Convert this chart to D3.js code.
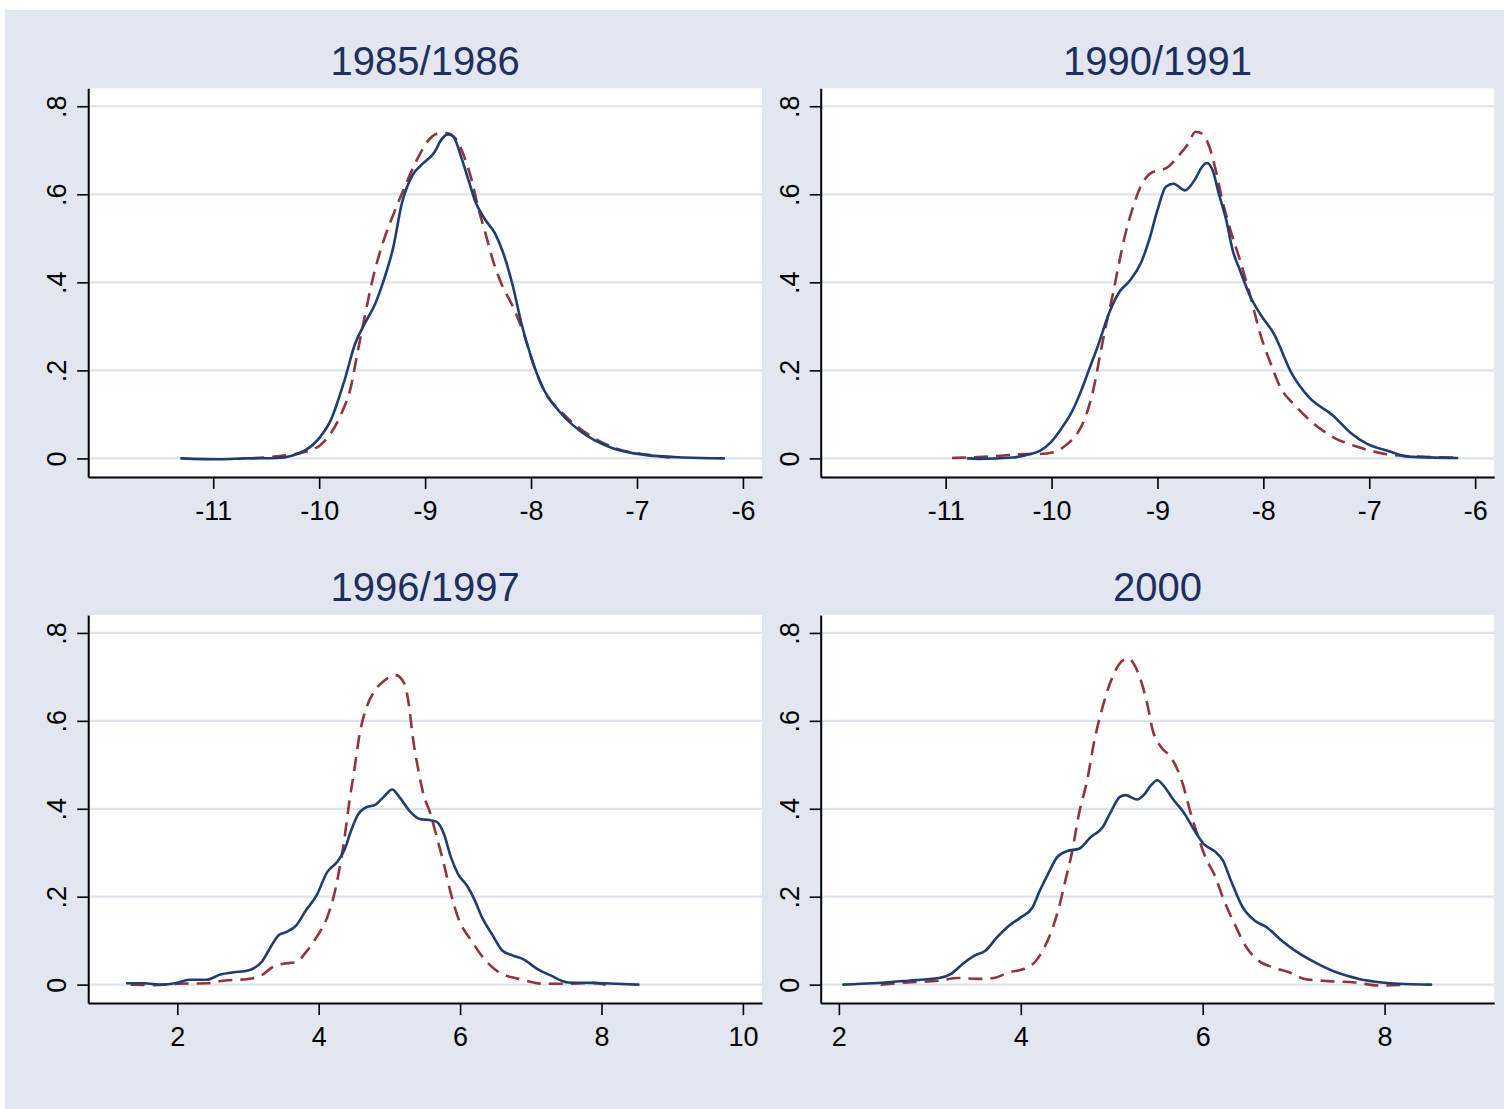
<!DOCTYPE html>
<html>
<head>
<meta charset="utf-8">
<script src="https://cdn.jsdelivr.net/npm/d3@7"></script>
<style>
  html, body { margin: 0; padding: 0; background: #ffffff; }
  svg { display: block; }
  text { font-family: "Liberation Sans", Arial, Helvetica, sans-serif; }
</style>
</head>
<body>
<svg id="chart" width="1504" height="1109"></svg>
<script>
// ---------- data ----------
const titles = ["1985/1986", "1990/1991", "1996/1997", "2000"];

const xTicks = [
  [-11, -10, -9, -8, -7, -6],
  [-11, -10, -9, -8, -7, -6],
  [2, 4, 6, 8, 10],
  [2, 4, 6, 8]
];
const xDomains = [
  [-12.18, -5.82],
  [-12.18, -5.82],
  [0.74, 10.27],
  [1.80, 9.205]
];
const yTicks = [0, 0.2, 0.4, 0.6, 0.8];
const yTickLabels = ["0", ".2", ".4", ".6", ".8"];
const yDomain = [-0.042, 0.841];

// panel 1: 1985/1986
const solid1 = [[-11.30,0],[-10.94,-0.002],[-10.70,0],[-10.40,0.001],[-10.13,0.019],[-9.99,0.049],[-9.89,0.087],
  [-9.76,0.178],[-9.66,0.261],[-9.57,0.306],[-9.47,0.352],[-9.39,0.405],[-9.30,0.48],[-9.22,0.579],[-9.12,0.643],
  [-9.02,0.670],[-8.91,0.696],[-8.85,0.723],[-8.78,0.736],[-8.73,0.730],[-8.66,0.685],[-8.59,0.632],[-8.53,0.586],
  [-8.44,0.545],[-8.34,0.511],[-8.26,0.465],[-8.17,0.39],[-8.09,0.306],[-8.00,0.231],[-7.90,0.166],[-7.73,0.106],
  [-7.53,0.061],[-7.23,0.023],[-6.93,0.008],[-6.55,0.002],[-6.18,0.0]];
const dashed1 = [[-10.65,0],[-10.40,0.005],[-10.13,0.015],[-9.99,0.030],[-9.89,0.057],[-9.79,0.102],[-9.70,0.163],
  [-9.64,0.238],[-9.57,0.322],[-9.49,0.412],[-9.39,0.496],[-9.29,0.560],[-9.18,0.624],[-9.08,0.677],[-8.98,0.719],
  [-8.88,0.738],[-8.80,0.739],[-8.71,0.726],[-8.63,0.685],[-8.56,0.632],[-8.50,0.571],[-8.43,0.511],[-8.36,0.45],
  [-8.28,0.397],[-8.17,0.344],[-8.07,0.284],[-7.97,0.208],[-7.87,0.151],[-7.70,0.102],[-7.50,0.061],[-7.20,0.023],
  [-6.89,0.008],[-6.69,0.002]];

// panel 2: 1990/1991
const solid2 = [[-10.79,0],[-10.69,-0.001],[-10.37,0.002],[-10.20,0.010],[-10.11,0.017],[-10.01,0.036],[-9.91,0.067],
  [-9.81,0.105],[-9.72,0.154],[-9.65,0.199],[-9.55,0.264],[-9.46,0.328],[-9.36,0.378],[-9.26,0.404],[-9.16,0.442],
  [-9.08,0.495],[-9.00,0.564],[-8.92,0.617],[-8.85,0.624],[-8.74,0.609],[-8.64,0.636],[-8.58,0.662],[-8.53,0.671],
  [-8.48,0.655],[-8.42,0.601],[-8.35,0.541],[-8.29,0.473],[-8.22,0.427],[-8.12,0.366],[-8.03,0.328],[-7.90,0.283],
  [-7.73,0.192],[-7.57,0.139],[-7.34,0.097],[-7.18,0.059],[-7.02,0.033],[-6.82,0.017],[-6.63,0.004],[-6.17,0.001]];
const dashed2 = [[-10.94,0.001],[-10.60,0.004],[-10.24,0.010],[-10.11,0.010],[-9.98,0.014],[-9.85,0.033],[-9.75,0.059],
  [-9.67,0.101],[-9.60,0.162],[-9.54,0.237],[-9.49,0.298],[-9.42,0.374],[-9.37,0.435],[-9.31,0.503],[-9.24,0.564],
  [-9.16,0.617],[-9.07,0.647],[-8.90,0.662],[-8.81,0.685],[-8.71,0.715],[-8.64,0.742],[-8.58,0.738],[-8.51,0.708],
  [-8.45,0.655],[-8.38,0.579],[-8.30,0.510],[-8.22,0.450],[-8.12,0.366],[-8.03,0.283],[-7.93,0.215],[-7.84,0.162],
  [-7.70,0.120],[-7.54,0.082],[-7.34,0.048],[-7.12,0.027],[-6.85,0.010],[-6.53,0.004],[-6.19,0.002]];

// panel 3: 1996/1997
const solid3 = [[1.29,0.003],[1.53,0.003],[1.78,0.0],[1.97,0.003],[2.17,0.011],[2.41,0.011],[2.61,0.023],[2.80,0.028],
  [3.00,0.032],[3.09,0.038],[3.19,0.051],[3.29,0.077],[3.43,0.112],[3.53,0.119],[3.68,0.134],[3.82,0.169],[3.97,0.203],
  [4.12,0.256],[4.26,0.279],[4.36,0.305],[4.46,0.351],[4.55,0.385],[4.68,0.404],[4.80,0.409],[4.92,0.427],[5.04,0.444],
  [5.14,0.427],[5.28,0.396],[5.43,0.377],[5.58,0.374],[5.67,0.370],[5.77,0.343],[5.87,0.290],[5.97,0.252],[6.11,0.222],
  [6.21,0.191],[6.31,0.153],[6.45,0.115],[6.60,0.077],[6.75,0.066],[6.89,0.058],[7.09,0.036],[7.28,0.021],[7.53,0.005],
  [7.87,0.004],[8.21,0.002],[8.52,0.0]];
const dashed3 = [[1.34,0.0],[1.68,-0.001],[2.02,0.002],[2.41,0.003],[2.65,0.009],[3.00,0.013],[3.19,0.021],[3.34,0.039],
  [3.48,0.047],[3.68,0.051],[3.82,0.074],[3.97,0.108],[4.12,0.153],[4.21,0.199],[4.29,0.260],[4.36,0.328],[4.43,0.412],
  [4.51,0.495],[4.58,0.571],[4.68,0.632],[4.80,0.670],[4.94,0.693],[5.09,0.704],[5.21,0.685],[5.28,0.632],[5.33,0.564],
  [5.41,0.488],[5.48,0.434],[5.58,0.389],[5.67,0.336],[5.77,0.275],[5.87,0.207],[5.97,0.153],[6.16,0.100],[6.36,0.055],
  [6.55,0.028],[6.84,0.013],[7.18,0.002],[7.57,0.002],[7.87,0.004],[8.06,0.0]];

// panel 4: 2000
const solid4 = [[2.05,0.0],[2.37,0.003],[2.76,0.009],[3.10,0.015],[3.23,0.024],[3.36,0.047],[3.49,0.066],[3.61,0.077],
  [3.74,0.108],[3.87,0.134],[4.00,0.153],[4.13,0.176],[4.21,0.214],[4.30,0.252],[4.40,0.290],[4.51,0.304],[4.64,0.309],
  [4.77,0.336],[4.90,0.358],[4.98,0.389],[5.09,0.427],[5.15,0.431],[5.28,0.421],[5.35,0.431],[5.43,0.453],[5.50,0.465],
  [5.58,0.450],[5.67,0.423],[5.80,0.389],[5.92,0.347],[6.01,0.320],[6.14,0.302],[6.22,0.283],[6.31,0.237],[6.44,0.176],
  [6.57,0.146],[6.70,0.131],[6.87,0.100],[7.04,0.074],[7.25,0.049],[7.47,0.028],[7.72,0.013],[7.97,0.005],[8.15,0.002],
  [8.51,0.0]];
const dashed4 = [[2.46,0.0],[2.76,0.005],[3.10,0.009],[3.31,0.015],[3.53,0.013],[3.70,0.015],[3.87,0.028],[4.04,0.036],
  [4.17,0.055],[4.26,0.085],[4.34,0.123],[4.43,0.184],[4.49,0.237],[4.56,0.298],[4.64,0.389],[4.73,0.465],[4.81,0.556],
  [4.90,0.632],[4.98,0.685],[5.09,0.731],[5.18,0.742],[5.26,0.723],[5.33,0.685],[5.39,0.639],[5.45,0.579],[5.54,0.541],
  [5.63,0.522],[5.71,0.495],[5.78,0.457],[5.86,0.396],[5.95,0.336],[6.03,0.290],[6.14,0.245],[6.22,0.199],[6.35,0.138],
  [6.48,0.085],[6.61,0.055],[6.78,0.039],[6.95,0.028],[7.12,0.013],[7.38,0.008],[7.68,0.005],[7.94,-0.002],[8.24,0.0]];

const solidSeries = [solid1, solid2, solid3, solid4];
const dashedSeries = [dashed1, dashed2, dashed3, dashed4];

// ---------- layout / style ----------
const BG = "#e1e6f0";
const GRID = "#dde3ee";
const NAVY = "#1f3d71";
const MAROON = "#90353b";
const TITLE = "#1e2f5e";

const panels = [
  {x0: 88.2, x1: 762.0, y0: 88.2, y1: 476.9, titleY: 75},
  {x0: 820.7, x1: 1494.2, y0: 88.2, y1: 476.9, titleY: 75},
  {x0: 88.2, x1: 762.0, y0: 614.9, y1: 1003.1, titleY: 601},
  {x0: 820.7, x1: 1494.2, y0: 614.9, y1: 1003.1, titleY: 601}
];

const svg = d3.select("#chart");
svg.append("rect").attr("x", 5).attr("y", 10).attr("width", 1499).attr("height", 1099).attr("fill", BG);

panels.forEach((p, i) => {
  const x = d3.scaleLinear().domain(xDomains[i]).range([p.x0, p.x1]);
  const y = d3.scaleLinear().domain(yDomain).range([p.y1, p.y0]);
  const g = svg.append("g");

  // plot region
  g.append("rect").attr("x", p.x0).attr("y", p.y0)
    .attr("width", p.x1 - p.x0).attr("height", p.y1 - p.y0).attr("fill", "#ffffff");

  // gridlines
  g.selectAll(".grid").data(yTicks).enter().append("line")
    .attr("x1", p.x0).attr("x2", p.x1)
    .attr("y1", d => y(d)).attr("y2", d => y(d))
    .attr("stroke", GRID).attr("stroke-width", 2.2);

  // curves
  const line = d3.line().x(d => x(d[0])).y(d => y(d[1])).curve(d3.curveMonotoneX);
  g.append("path").datum(dashedSeries[i]).attr("d", line)
    .attr("fill", "none").attr("stroke", MAROON).attr("stroke-width", 2.6)
    .attr("stroke-dasharray", "14,8").attr("stroke-linejoin", "round");
  g.append("path").datum(solidSeries[i]).attr("d", line)
    .attr("fill", "none").attr("stroke", NAVY).attr("stroke-width", 2.6)
    .attr("stroke-linejoin", "round").attr("stroke-linecap", "round");

  // x axis
  const xAxis = d3.axisBottom(x).tickValues(xTicks[i]).tickSize(12).tickPadding(8).tickSizeOuter(0)
    .tickFormat(d => String(d));
  const gx = g.append("g").attr("transform", `translate(0,${p.y1})`).call(xAxis);
  gx.select(".domain").attr("stroke", "#000").attr("stroke-width", 2);
  gx.selectAll(".tick line").attr("stroke", "#000").attr("stroke-width", 1.6);
  gx.selectAll(".tick text").attr("font-size", 27).attr("fill", "#000")
    .attr("font-family", "Liberation Sans, Arial, sans-serif")
    .attr("dy", null).attr("y", 43).attr("dominant-baseline", "alphabetic");

  // y axis
  const yAxis = d3.axisLeft(y).tickValues(yTicks).tickSize(11).tickSizeOuter(0)
    .tickFormat((d, k) => yTickLabels[k]);
  const gy = g.append("g").attr("transform", `translate(${p.x0},0)`).call(yAxis);
  gy.select(".domain").attr("stroke", "#000").attr("stroke-width", 2);
  gy.selectAll(".tick line").attr("stroke", "#000").attr("stroke-width", 1.6);
  gy.selectAll(".tick text").attr("font-size", 27).attr("fill", "#000")
    .attr("font-family", "Liberation Sans, Arial, sans-serif")
    .attr("x", null).attr("dy", null)
    .attr("text-anchor", "middle")
    .attr("transform", "translate(-22,0) rotate(-90)")
    .attr("y", 0);

  // title
  g.append("text").attr("x", (p.x0 + p.x1) / 2).attr("y", p.titleY)
    .attr("text-anchor", "middle").attr("font-size", 40).attr("fill", TITLE)
    .text(titles[i]);
});
</script>
</body>
</html>
